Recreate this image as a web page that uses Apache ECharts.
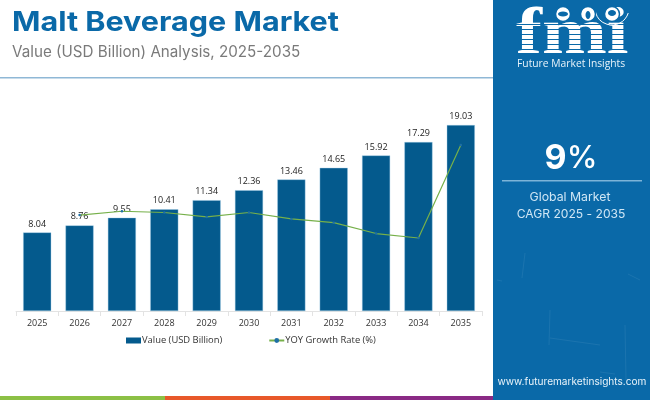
<!DOCTYPE html>
<html>
<head>
<meta charset="utf-8">
<style>html,body{margin:0;padding:0;background:#fff}#main{width:650px;height:400px}</style>
<script src="https://cdn.jsdelivr.net/npm/echarts@6/dist/echarts.min.js"></script>
</head>
<body>
<div id="main"></div>
<script>
var years = ['2025','2026','2027','2028','2029','2030','2031','2032','2033','2034','2035'];
var marketValue = [8.04,8.76,9.55,10.41,11.34,12.36,13.46,14.65,15.92,17.29,19.03];
var yoyGrowth = [null,8.96,9.02,9.0,8.93,9.0,8.9,8.84,8.67,8.6,10.06];

var panelBlue = '#0a69a8';
var logoStripes = [];
for (var i = 0; i < 7; i++) {
	logoStripes.push({
		type: 'rect',
		shape: { x: 512, y: 24 + i * 5, width: 118, height: 1 },
		style: { fill: panelBlue },
		z: 12
	});
}
// little globes over the logo
var logoGlobes = [[563,14],[588,14],[612,14]].map(function (p) {
	return { type: 'circle', shape: { cx: p[0], cy: p[1], r: 7.5 }, style: { fill: '#fff', stroke: panelBlue, lineWidth: 1.5 }, z: 13 };
});
var globeSpots = [[563,14,5,2.5],[588,15,2.5,4],[612,13,4,3]].map(function (p) {
	return { type: 'ellipse', shape: { cx: p[0], cy: p[1], rx: p[2], ry: p[3] }, style: { fill: panelBlue }, z: 14 };
});
// faint scratches on the side panel
var scratches = [[525,253,522,278],[625,325,626,380],[550,338,600,345],[628,274,640,280],[550,310,549,345],[600,372,615,374],[497,280,502,281]].map(function (p) {
	return { type: 'line', shape: { x1: p[0], y1: p[1], x2: p[2], y2: p[3] }, style: { stroke: 'rgba(255,255,255,0.07)', lineWidth: 1 }, z: 10 };
});

var myChart = echarts.init(document.getElementById('main'));

var option = {
	animation: false,
	grid: { left: 16, right: 168, top: 100, bottom: 89 },
	legend: {
		top: 331,
		left: 121,
		itemWidth: 15,
		itemHeight: 6,
		itemGap: 46,
		textStyle: { fontFamily: 'Open Sans', fontSize: 9.4, color: '#333', padding: [0, 0, 0, -4] },
		data: [
			{ name: 'Value (USD Billion)', icon: 'rect', itemStyle: { borderWidth: 0 } },
			{ name: 'YOY Growth Rate (%)' }
		]
	},
	xAxis: {
		type: 'category',
		data: years,
		axisLine: { lineStyle: { color: '#e3e3e3' } },
		axisTick: { show: true, lineStyle: { color: '#e3e3e3' } },
		axisLabel: { color: '#333', fontFamily: 'Open Sans', fontSize: 9, margin: 8 }
	},
	yAxis: [
		{ type: 'value', min: 0, max: 21.6, show: false },
		{ type: 'value', min: 7.454, max: 10.766, show: false }
	],
	series: [{
		name: 'Value (USD Billion)',
		type: 'bar',
		data: marketValue,
		barWidth: 28,
		itemStyle: { color: '#045a8d', borderColor: '#9ccbe6', borderWidth: 0.4 },
		label: { show: true, position: 'top', distance: 4, color: '#222', fontFamily: 'Open Sans', fontSize: 9 }
	}, {
		name: 'YOY Growth Rate (%)',
		type: 'line',
		yAxisIndex: 1,
		data: yoyGrowth,
		symbol: 'circle',
		symbolSize: 2.5,
		lineStyle: { color: '#76b04a', width: 1.2 },
		itemStyle: { color: '#1f6fa5' },
		z: 5
	}],
	graphic: [
		{ type: 'text', x: 12, y: 9, scaleX: 1.11, style: { text: 'Malt Beverage Market', font: 'bold 27.5px Inter', fill: '#0a69a8' } },
		{ type: 'text', x: 12, y: 45, style: { text: 'Value (USD Billion) Analysis, 2025-2035', font: '15.2px Inter', fill: '#7a7a7a' } },
		{ type: 'rect', shape: { x: 0, y: 77, width: 493, height: 1.4 }, style: { fill: '#8fb8d6' } },
		{ type: 'rect', shape: { x: 493, y: 0, width: 157, height: 400 }, style: { fill: panelBlue }, z: 10 },
		{ type: 'text', x: 516, y: 3, scaleX: 1.18, z: 11, style: { text: 'fmi', font: 'bold 66px "Liberation Serif"', fill: '#fff' } },
		{ type: 'arc', shape: { cx: 612, cy: 8, r: 17, startAngle: 0.3, endAngle: 2.9 }, style: { stroke: '#fff', fill: 'none', lineWidth: 1 }, z: 13 },
		{ type: 'text', x: 517, y: 59, z: 13, style: { text: 'Future Market Insights', font: '10.3px "Open Sans"', fill: '#e8f3fa' } },
		{ type: 'text', x: 571, y: 142, z: 11, style: { text: '{a|9}{b|%}', rich: {
			a: { font: 'bold 34px Inter', fill: '#fff' },
			b: { font: '500 31px Inter', fill: '#fff' }
		}, align: 'center' } },
		{ type: 'rect', shape: { x: 502, y: 180, width: 140, height: 1.5 }, style: { fill: '#7db4d8' }, z: 11 },
		{ type: 'text', x: 570, y: 191, z: 11, style: { text: 'Global Market', font: '12.3px Inter', fill: '#cfe6f5', align: 'center' } },
		{ type: 'text', x: 571, y: 208, z: 11, style: { text: 'CAGR 2025 - 2035', font: '12.1px Inter', fill: '#cfe6f5', align: 'center' } },
		{ type: 'text', x: 572, y: 377, z: 11, style: { text: 'www.futuremarketinsights.com', font: '10.1px Inter', fill: '#e8f3fa', align: 'center' } },
		{ type: 'rect', shape: { x: 0, y: 396, width: 165, height: 4 }, style: { fill: '#8cc045' } },
		{ type: 'rect', shape: { x: 165, y: 396, width: 165, height: 4 }, style: { fill: '#e8582a' } },
		{ type: 'rect', shape: { x: 330, y: 396, width: 163, height: 4 }, style: { fill: '#8a2a85' } }
	].concat(logoStripes, logoGlobes, globeSpots, scratches)
};
myChart.setOption(option);
</script>
</body>
</html>
